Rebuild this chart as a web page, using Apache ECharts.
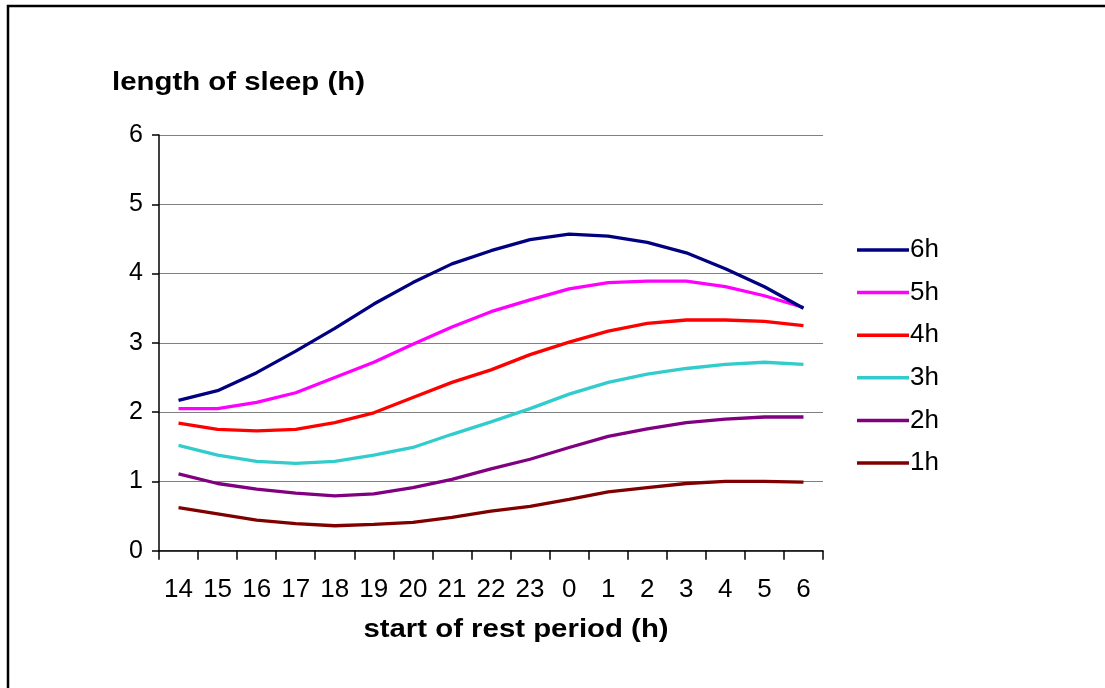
<!DOCTYPE html>
<html>
<head>
<meta charset="utf-8">
<script src="https://cdn.jsdelivr.net/npm/echarts@6/dist/echarts.min.js"></script>
<style>
html,body{margin:0;padding:0;background:#fff;}
#chart{width:1105px;height:688px;}
</style>
</head>
<body>
<div id="chart"></div>
<script>
var categories = ['14','15','16','17','18','19','20','21','22','23','0','1','2','3','4','5','6'];
var seriesNames = ['6h','5h','4h','3h','2h','1h'];
var seriesColors = ['#000080','#FF00FF','#FF0000','#33CCCC','#800080','#800000'];
var values6h = [2.17,2.31,2.57,2.88,3.21,3.56,3.87,4.14,4.33,4.49,4.57,4.54,4.45,4.30,4.07,3.81,3.50];
var values5h = [2.05,2.05,2.14,2.28,2.50,2.72,2.98,3.23,3.45,3.62,3.78,3.87,3.89,3.89,3.81,3.68,3.51];
var values4h = [1.84,1.75,1.73,1.75,1.85,1.99,2.21,2.43,2.61,2.83,3.01,3.17,3.28,3.33,3.33,3.31,3.25];
var values3h = [1.52,1.38,1.29,1.26,1.29,1.38,1.49,1.68,1.86,2.05,2.26,2.43,2.55,2.63,2.69,2.72,2.69];
var values2h = [1.11,0.97,0.89,0.83,0.79,0.82,0.91,1.03,1.18,1.32,1.49,1.65,1.76,1.85,1.90,1.93,1.93];
var values1h = [0.62,0.53,0.44,0.39,0.36,0.38,0.41,0.48,0.57,0.64,0.74,0.85,0.91,0.97,1.00,1.00,0.99];
var yTitle = 'length of sleep (h)';
var xTitle = 'start of rest period (h)';

var allValues = [values6h, values5h, values4h, values3h, values2h, values1h];
var FONT = '"Liberation Sans", Arial, sans-serif';

var series = seriesNames.map(function (n, i) {
  return {
    name: n,
    type: 'line',
    data: allValues[i],
    showSymbol: false,
    symbol: 'none',
    smooth: false,
    lineStyle: { color: seriesColors[i], width: 3.3 },
    itemStyle: { color: seriesColors[i] },
    z: 10 - i
  };
});

var chart = echarts.init(document.getElementById('chart'), null, { renderer: 'canvas' });
chart.setOption({
  animation: false,
  backgroundColor: '#ffffff',
  textStyle: { fontFamily: FONT },
  grid: { left: 159, right: 282, top: 135, bottom: 137.3, containLabel: false },
  legend: {
    data: seriesNames,
    orient: 'vertical',
    left: 852,
    top: 232,
    icon: 'rect',
    itemWidth: 52,
    itemHeight: 3.5,
    itemGap: 16.6,
    textStyle: { fontFamily: FONT, fontSize: 26, color: '#000', lineHeight: 23, padding: [0,0,0,-4] }
  },
  xAxis: {
    type: 'category',
    data: categories,
    boundaryGap: true,
    axisLine: { lineStyle: { color: '#000', width: 1.5 } },
    axisTick: { show: true, length: 9, inside: false, lineStyle: { color: '#000', width: 1.5 } },
    axisLabel: { interval: 0, margin: 26, fontFamily: FONT, fontSize: 26, color: '#000' },
    splitLine: { show: false }
  },
  yAxis: {
    type: 'value',
    min: 0,
    max: 6,
    interval: 1,
    axisLine: { show: true, lineStyle: { color: '#000', width: 1.5 } },
    axisTick: { show: true, length: 7, inside: false, lineStyle: { color: '#000', width: 1.5 } },
    axisLabel: { margin: 16, fontFamily: FONT, fontSize: 25, color: '#000' },
    splitLine: { show: true, lineStyle: { color: '#808080', width: 1.2 } }
  },
  series: series,
  graphic: [
    {
      type: 'rect',
      shape: { x: 8, y: 6, width: 1200, height: 800 },
      style: { fill: 'none', stroke: '#000', lineWidth: 2.5 },
      silent: true
    },
    {
      type: 'text',
      x: 112,
      y: 83,
      scaleX: 1.13,
      style: { text: yTitle, font: 'bold 26px ' + FONT, fill: '#000', align: 'left', verticalAlign: 'middle' }
    },
    {
      type: 'text',
      x: 516,
      y: 630,
      scaleX: 1.13,
      style: { text: xTitle, font: 'bold 26px ' + FONT, fill: '#000', align: 'center', verticalAlign: 'middle' }
    }
  ]
});
</script>
</body>
</html>
